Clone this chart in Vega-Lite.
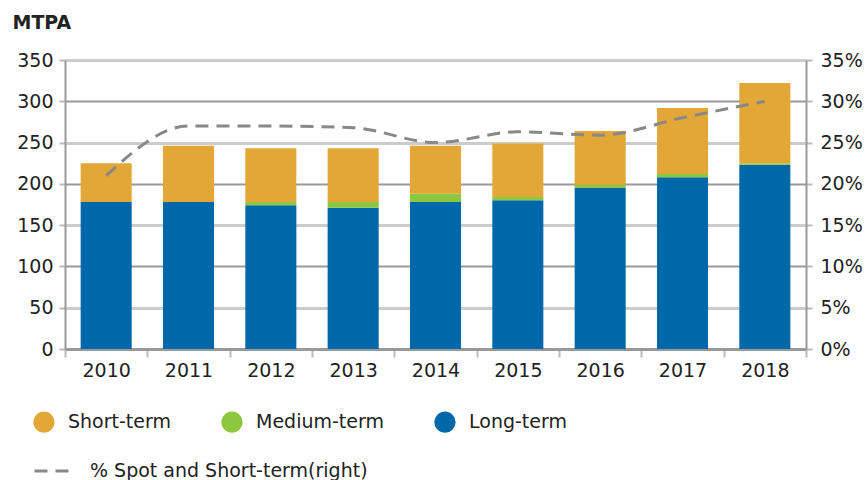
{
  "$schema": "https://vega.github.io/schema/vega-lite/v6.json",
  "width": 741,
  "height": 289,
  "autosize": {"type": "none"},
  "padding": {"left": 65, "top": 60, "right": 61, "bottom": 131},
  "config": {
    "view": {"stroke": null},
    "font": "DejaVu Sans",
    "axis": {
      "labelFont": "DejaVu Sans",
      "labelFontSize": 19,
      "labelColor": "#222",
      "domainColor": "#999",
      "domainWidth": 2,
      "tickColor": "#bbb",
      "tickWidth": 2
    },
    "legend": {"padding": 0, "labelFont": "DejaVu Sans", "labelFontSize": 19, "labelColor": "#222", "labelLimit": 500}
  },
  "datasets": {
    "bars": [
      {"year": "2010", "type": "Long-term", "mtpa": 178},
      {"year": "2010", "type": "Medium-term", "mtpa": 0},
      {"year": "2010", "type": "Short-term", "mtpa": 47},
      {"year": "2011", "type": "Long-term", "mtpa": 178},
      {"year": "2011", "type": "Medium-term", "mtpa": 0},
      {"year": "2011", "type": "Short-term", "mtpa": 68},
      {"year": "2012", "type": "Long-term", "mtpa": 174},
      {"year": "2012", "type": "Medium-term", "mtpa": 4},
      {"year": "2012", "type": "Short-term", "mtpa": 65},
      {"year": "2013", "type": "Long-term", "mtpa": 171},
      {"year": "2013", "type": "Medium-term", "mtpa": 7},
      {"year": "2013", "type": "Short-term", "mtpa": 65},
      {"year": "2014", "type": "Long-term", "mtpa": 178},
      {"year": "2014", "type": "Medium-term", "mtpa": 10},
      {"year": "2014", "type": "Short-term", "mtpa": 58},
      {"year": "2015", "type": "Long-term", "mtpa": 180},
      {"year": "2015", "type": "Medium-term", "mtpa": 4},
      {"year": "2015", "type": "Short-term", "mtpa": 65},
      {"year": "2016", "type": "Long-term", "mtpa": 195},
      {"year": "2016", "type": "Medium-term", "mtpa": 4},
      {"year": "2016", "type": "Short-term", "mtpa": 65},
      {"year": "2017", "type": "Long-term", "mtpa": 208},
      {"year": "2017", "type": "Medium-term", "mtpa": 4},
      {"year": "2017", "type": "Short-term", "mtpa": 80},
      {"year": "2018", "type": "Long-term", "mtpa": 223},
      {"year": "2018", "type": "Medium-term", "mtpa": 2},
      {"year": "2018", "type": "Short-term", "mtpa": 97}
    ],
    "share": [
      {"year": "2010", "series": "% Spot and Short-term(right)", "share": 0.21},
      {"year": "2011", "series": "% Spot and Short-term(right)", "share": 0.27},
      {"year": "2012", "series": "% Spot and Short-term(right)", "share": 0.27},
      {"year": "2013", "series": "% Spot and Short-term(right)", "share": 0.268},
      {"year": "2014", "series": "% Spot and Short-term(right)", "share": 0.25},
      {"year": "2015", "series": "% Spot and Short-term(right)", "share": 0.263},
      {"year": "2016", "series": "% Spot and Short-term(right)", "share": 0.259},
      {"year": "2017", "series": "% Spot and Short-term(right)", "share": 0.28},
      {"year": "2018", "series": "% Spot and Short-term(right)", "share": 0.30}
    ]
  },
  "layer": [
    {
      "data": {"name": "bars"},
      "mark": {"type": "bar", "width": {"band": 0.62}},
      "encoding": {
        "x": {
          "field": "year", "type": "nominal",
          "scale": {"paddingInner": 0, "paddingOuter": 0},
          "axis": {"title": null, "labelAngle": 0, "tickBand": "extent", "tickSize": 8, "labelPadding": 4, "domainWidth": 3}
        },
        "y": {
          "field": "mtpa", "type": "quantitative", "stack": "zero",
          "scale": {"domain": [0, 350]},
          "axis": {
            "values": [0, 50, 100, 150, 200, 250, 300, 350],
            "title": "MTPA", "titleAngle": 0, "titleX": -53, "titleY": -32,
            "titleAlign": "left", "titleBaseline": "alphabetic",
            "titleFontSize": 19, "titleFontWeight": "bold", "titleColor": "#222", "titleFont": "DejaVu Sans",
            "grid": true,
            "gridColor": {"condition": {"test": "datum.value % 100 === 0", "value": "#9a9a9a"}, "value": "#cccccc"},
            "gridWidth": {"condition": {"test": "datum.value % 100 === 0", "value": 2}, "value": 3},
            "tickSize": 6, "labelPadding": 6
          }
        },
        "color": {
          "field": "type", "type": "nominal",
          "scale": {"domain": ["Short-term", "Medium-term", "Long-term"], "range": ["#E3A738", "#8DC63F", "#0068A8"]},
          "legend": {
            "title": null, "orient": "none", "legendX": -32, "legendY": 351,
            "direction": "horizontal", "symbolType": "circle", "symbolSize": 450,
            "symbolStrokeWidth": 0, "symbolOpacity": 1, "labelOffset": 13, "columnPadding": 50
          }
        },
        "order": {"field": "type", "sort": "ascending"}
      }
    },
    {
      "data": {"name": "share"},
      "mark": {"type": "line", "interpolate": "monotone", "strokeWidth": 3, "color": "#888"},
      "encoding": {
        "x": {"field": "year", "type": "nominal"},
        "y": {
          "field": "share", "type": "quantitative",
          "scale": {"domain": [0, 0.35]},
          "axis": {
            "orient": "right", "values": [0, 0.05, 0.1, 0.15, 0.2, 0.25, 0.3, 0.35],
            "format": ".0%", "grid": false, "title": null, "tickSize": 6, "labelPadding": 8
          }
        },
        "strokeDash": {
          "field": "series", "type": "nominal",
          "scale": {"range": [[13, 8]]},
          "legend": {
            "title": null, "orient": "none", "legendX": -32, "legendY": 392,
            "symbolType": "stroke", "symbolSize": 1225, "symbolStrokeColor": "#888",
            "symbolStrokeWidth": 3, "labelOffset": 19
          }
        }
      }
    }
  ],
  "resolve": {"scale": {"y": "independent"}}
}
